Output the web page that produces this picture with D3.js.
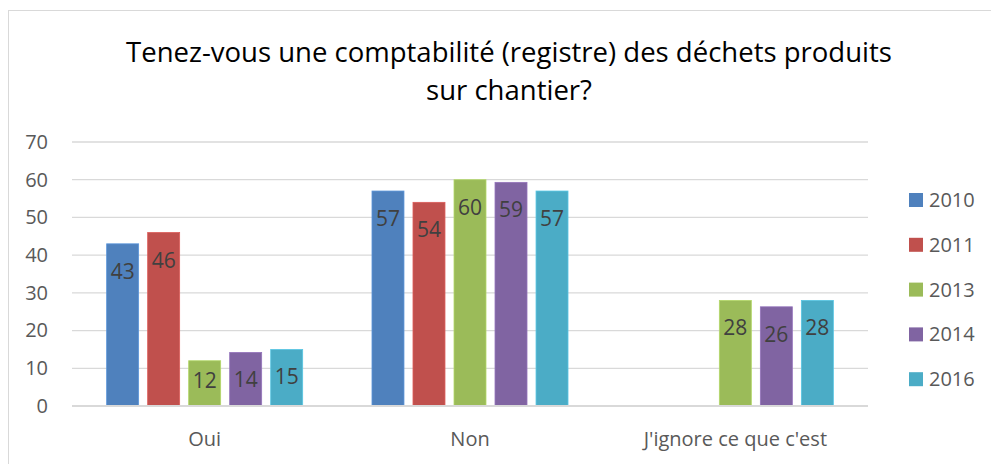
<!DOCTYPE html>
<html>
<head>
<meta charset="utf-8">
<script src="https://cdn.jsdelivr.net/npm/d3@7"></script>
<style>
  body { margin: 0; background: #fff; }
  svg { display: block; font-family: "Open Sans", sans-serif; }
</style>
</head>
<body>
<div id="chart"></div>
<script>
// 1: DATA
const categories = ["Oui", "Non", "J'ignore ce que c'est"];
const years = ["2010", "2011", "2013", "2014", "2016"];
const values2010 = [43, 57, null];
const values2011 = [46, 54, null];
const values2013 = [12, 60, 28];
const values2014 = [14.2, 59.3, 26.3];
const values2016 = [15, 57, 28];
const yTicks = [0, 10, 20, 30, 40, 50, 60, 70];
const colors = ["#4F81BD", "#C0504D", "#9BBB59", "#8064A2", "#4BACC6"];
const titleLines = ["Tenez-vous une comptabilité (registre) des déchets produits", "sur chantier?"];

const seriesValues = [values2010, values2011, values2013, values2014, values2016];

// 2: GLOBAL SIZES
const W = 991, H = 464;
const plot = { left: 72, right: 868, top: 142, bottom: 406 };

const svg = d3.select("#chart")
    .append("svg")
    .attr("width", W)
    .attr("height", H);

// chart frame (right and bottom edges fall outside the picture)
svg.append("rect")
    .attr("x", 8.5)
    .attr("y", 10.5)
    .attr("width", 1000)
    .attr("height", 600)
    .attr("fill", "none")
    .attr("stroke", "#D9D9D9");

// 3: SCALES
const x0 = d3.scaleBand()
    .domain(categories)
    .range([plot.left, plot.right]);

const x1 = d3.scaleBand()
    .domain(years)
    .range([0, x0.bandwidth()])
    .paddingInner(0.22)
    .paddingOuter(0.845);

const y = d3.scaleLinear()
    .domain([0, 70])
    .range([plot.bottom, plot.top]);

const color = d3.scaleOrdinal().domain(years).range(colors);

// 4: GRIDLINES + Y AXIS
svg.append("g")
    .selectAll("line")
    .data(yTicks.filter(d => d > 0))
    .enter()
    .append("line")
    .attr("x1", plot.left)
    .attr("x2", plot.right)
    .attr("y1", d => y(d))
    .attr("y2", d => y(d))
    .attr("stroke", "#D9D9D9")
    .attr("stroke-width", 1.3);

const yAxis = svg.append("g")
    .attr("transform", `translate(${plot.left - 24},0)`)
    .call(d3.axisLeft(y).tickValues(yTicks).tickSize(0).tickPadding(0));
yAxis.select(".domain").remove();
yAxis.selectAll("text")
    .attr("fill", "#595959")
    .style("font-size", "20px")
    .style("font-family", "'Open Sans', sans-serif");

// 5: BARS
const flat = [];
categories.forEach((c, i) => {
    years.forEach((yr, j) => {
        const v = seriesValues[j][i];
        if (v != null) flat.push({ category: c, year: yr, value: v });
    });
});

const bars = svg.append("g")
    .selectAll("g")
    .data(flat)
    .enter()
    .append("g")
    .attr("transform", d => `translate(${x0(d.category) + x1(d.year)},0)`);

bars.append("rect")
    .attr("x", 0)
    .attr("y", d => y(d.value))
    .attr("width", x1.bandwidth())
    .attr("height", d => y(0) - y(d.value))
    .attr("fill", d => color(d.year))
    .attr("stroke", d => d3.color(color(d.year)).brighter(0.4))
    .attr("stroke-width", 0.8);

// value labels, inside end (centred when the bar is too short)
bars.append("text")
    .attr("x", x1.bandwidth() / 2)
    .attr("y", d => {
        const top = y(d.value), h = y(0) - top;
        return h < 50 ? top + h / 2 + 5 : top + 35;
    })
    .attr("text-anchor", "middle")
    .attr("fill", "#404040")
    .style("font-size", "21px")
    .text(d => d3.format(".0f")(d.value));

// baseline
svg.append("line")
    .attr("x1", plot.left)
    .attr("x2", plot.right)
    .attr("y1", y(0))
    .attr("y2", y(0))
    .attr("stroke", "#D9D9D9")
    .attr("stroke-width", 2);

// 6: X AXIS LABELS
const xAxis = svg.append("g")
    .attr("transform", `translate(0,${plot.bottom})`)
    .call(d3.axisBottom(x0).tickSize(0).tickPadding(0));
xAxis.select(".domain").remove();
xAxis.selectAll("text")
    .attr("dy", null)
    .attr("y", 40)
    .attr("fill", "#595959")
    .style("font-size", "20px")
    .style("font-family", "'Open Sans', sans-serif");

// 7: TITLE (sized so the first line spans the same width as the reference)
const title = svg.append("g").attr("text-anchor", "middle").attr("fill", "#000");
const t1 = title.append("text")
    .attr("x", 509)
    .attr("y", 62)
    .style("font-size", "28px")
    .text(titleLines[0]);
const fitSize = 28 * 766 / t1.node().getComputedTextLength();
t1.style("font-size", fitSize + "px");
title.append("text")
    .attr("x", 509)
    .attr("y", 100)
    .style("font-size", fitSize + "px")
    .text(titleLines[1]);

// 8: LEGEND
const legend = svg.append("g")
    .selectAll("g")
    .data(years)
    .enter()
    .append("g")
    .attr("transform", (d, i) => `translate(909,${200 + i * 44.8})`);

legend.append("rect")
    .attr("x", 0)
    .attr("y", -7)
    .attr("width", 14)
    .attr("height", 14)
    .attr("fill", d => color(d));

legend.append("text")
    .attr("x", 20)
    .attr("y", 7)
    .attr("fill", "#595959")
    .style("font-size", "20px")
    .text(d => d);
</script>
</body>
</html>
